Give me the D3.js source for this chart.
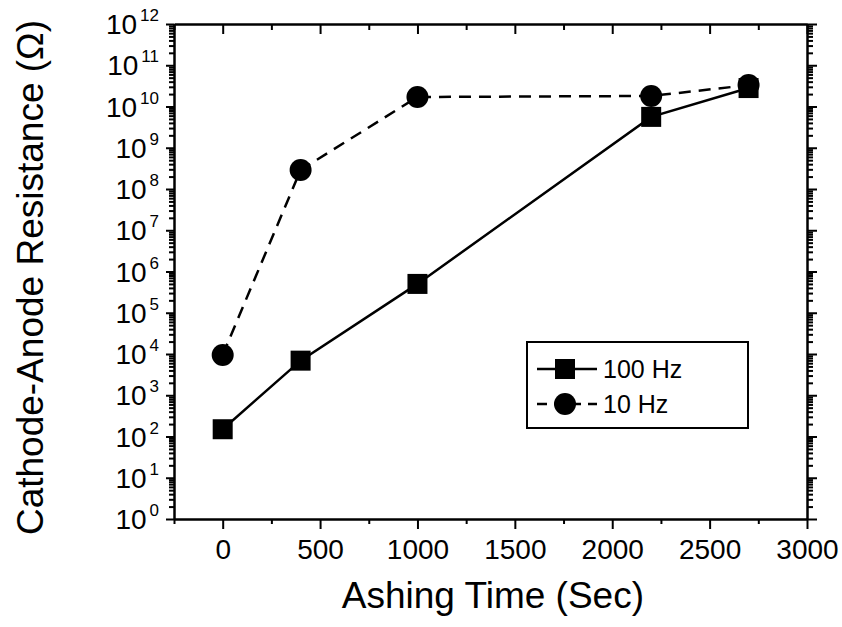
<!DOCTYPE html>
<html>
<head>
<meta charset="utf-8">
<script src="https://cdn.jsdelivr.net/npm/d3@7"></script>
<style>
  body { margin: 0; background: #fff; }
  text { font-family: "Liberation Sans", Arial, sans-serif; fill: #000; }
</style>
</head>
<body>
<svg id="chart" width="842" height="627"></svg>
<script>
// data
var times = [0, 400, 1000, 2200, 2700];
var r100Hz = [150, 6900, 5.0e5, 5.6e9, 2.8e10];
var r10Hz = [9.5e3, 2.9e8, 1.7e10, 1.8e10, 3.3e10];
var xTicks = [0, 500, 1000, 1500, 2000, 2500, 3000];
var yExponents = [0, 1, 2, 3, 4, 5, 6, 7, 8, 9, 10, 11, 12];
var seriesNames = ["100 Hz", "10 Hz"];

var margin = {top: 24, right: 35, bottom: 108, left: 174};
var width = 842 - margin.left - margin.right,
    height = 627 - margin.top - margin.bottom;

var svg = d3.select("#chart");
var g = svg.append("g")
  .attr("transform", "translate(" + margin.left + "," + margin.top + ")");

var x = d3.scaleLinear().domain([-250, 3000]).range([0, width]);
var y = d3.scaleLog().domain([1, 1e12]).range([height, 0]);

// minor ticks
var xMinor = d3.range(-250, 3001, 250).filter(function(d) { return d % 500 != 0; });
var yMinor = [];
for (var e = 0; e < 12; e++) {
  for (var k = 2; k <= 9; k++) yMinor.push(k * Math.pow(10, e));
}

// bottom axis, ticks outward
g.append("g")
  .attr("transform", "translate(0," + height + ")")
  .call(d3.axisBottom(x).tickValues(xMinor).tickSize(5).tickFormat(""))
  .call(function(a) { a.select(".domain").remove(); });
g.append("g")
  .attr("class", "xaxis")
  .attr("transform", "translate(0," + height + ")")
  .call(d3.axisBottom(x).tickValues(xTicks).tickSize(10).tickPadding(10).tickSizeOuter(0).tickFormat(d3.format("d")))
  .call(function(a) { a.selectAll("text").style("font-size", "28px"); });

// top axis, ticks inward
g.append("g")
  .call(d3.axisBottom(x).tickValues(xMinor).tickSize(6).tickFormat(""))
  .call(function(a) { a.select(".domain").remove(); });
g.append("g")
  .call(d3.axisBottom(x).tickValues(xTicks).tickSize(10).tickFormat("").tickSizeOuter(0));

// left axis, ticks outward
g.append("g")
  .call(d3.axisLeft(y).tickValues(yMinor).tickSize(5).tickFormat(""))
  .call(function(a) { a.select(".domain").remove(); });
g.append("g")
  .call(d3.axisLeft(y).tickValues(yExponents.map(function(d) { return Math.pow(10, d); }))
    .tickSize(8).tickFormat("").tickSizeOuter(0));

// right axis, ticks inward
g.append("g")
  .attr("transform", "translate(" + width + ",0)")
  .call(d3.axisLeft(y).tickValues(yMinor).tickSize(-6).tickFormat(""))
  .call(function(a) { a.select(".domain").remove(); });
g.append("g")
  .attr("transform", "translate(" + width + ",0)")
  .call(d3.axisLeft(y).tickValues(yExponents.map(function(d) { return Math.pow(10, d); }))
    .tickSize(-10).tickFormat("").tickSizeOuter(0));

g.selectAll(".domain").attr("stroke-width", 2.5);
g.selectAll(".tick line").attr("stroke-width", 2);

// y tick labels as 10 with superscript
var ylab = g.selectAll(".ylab")
  .data(yExponents)
  .enter()
  .append("text")
  .attr("class", "ylab")
  .attr("text-anchor", "end")
  .attr("x", -15)
  .attr("y", function(d) { return y(Math.pow(10, d)) + 10; });
ylab.append("tspan").style("font-size", "28px").text("10");
ylab.append("tspan").style("font-size", "17px").attr("dx", 3).attr("dy", -13)
  .text(function(d) { return d; });

// axis titles
svg.append("text")
  .attr("x", margin.left + x(1500) - 22)
  .attr("y", 608)
  .attr("text-anchor", "middle")
  .style("font-size", "37px")
  .text("Ashing Time (Sec)");

svg.append("text")
  .attr("transform", "translate(43," + (margin.top + height / 2 + 6) + ") rotate(-90)")
  .attr("text-anchor", "middle")
  .style("font-size", "37px")
  .text("Cathode-Anode Resistance (Ω)");

// lines
var line = d3.line()
  .x(function(d) { return x(d[0]); })
  .y(function(d) { return y(d[1]); });

var data100 = times.map(function(t, i) { return [t, r100Hz[i]]; });
var data10 = times.map(function(t, i) { return [t, r10Hz[i]]; });

g.append("path")
  .datum(data10)
  .attr("fill", "none")
  .attr("stroke", "#000")
  .attr("stroke-width", 2.5)
  .attr("stroke-dasharray", "12,8")
  .attr("d", line);

g.append("path")
  .datum(data100)
  .attr("fill", "none")
  .attr("stroke", "#000")
  .attr("stroke-width", 2.5)
  .attr("d", line);

g.selectAll(".circ")
  .data(data10)
  .enter()
  .append("circle")
  .attr("cx", function(d) { return x(d[0]); })
  .attr("cy", function(d) { return y(d[1]); })
  .attr("r", 11)
  .attr("fill", "#000");

g.selectAll(".sq")
  .data(data100)
  .enter()
  .append("rect")
  .attr("x", function(d) { return x(d[0]) - 10; })
  .attr("y", function(d) { return y(d[1]) - 10; })
  .attr("width", 20)
  .attr("height", 20)
  .attr("fill", "#000");

// legend
var legend = svg.append("g").attr("transform", "translate(527,342)");
legend.append("rect")
  .attr("width", 221)
  .attr("height", 86)
  .attr("fill", "#fff")
  .attr("stroke", "#000")
  .attr("stroke-width", 2);

var rows = legend.selectAll(".row")
  .data(seriesNames)
  .enter()
  .append("g")
  .attr("transform", function(d, i) { return "translate(0," + (27 + i * 35) + ")"; });

rows.append("line")
  .attr("x1", 10).attr("x2", 70)
  .attr("stroke", "#000")
  .attr("stroke-width", 2.5)
  .attr("stroke-dasharray", function(d, i) { return i == 0 ? null : "10,7"; });

rows.each(function(d, i) {
  var r = d3.select(this);
  if (i == 0) {
    r.append("rect").attr("x", 28).attr("y", -10).attr("width", 20).attr("height", 20).attr("fill", "#000");
  } else {
    r.append("circle").attr("cx", 38).attr("r", 11).attr("fill", "#000");
  }
});

rows.append("text")
  .attr("x", 76)
  .attr("y", 9)
  .style("font-size", "25px")
  .text(function(d) { return d; });
</script>
</body>
</html>
